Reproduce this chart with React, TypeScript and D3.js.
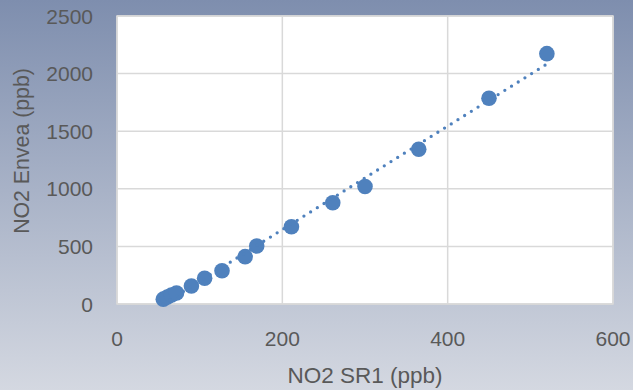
import React from "react";
import * as d3 from "d3";

const xValues = [56, 61, 66, 72, 90, 106, 127, 155, 169, 211, 261, 300, 365, 450, 520];
const yValues = [42, 60, 78, 95, 156, 223, 288, 411, 503, 671, 879, 1020, 1343, 1786, 2173];
const xTicks = [0, 200, 400, 600];
const yTicks = [0, 500, 1000, 1500, 2000, 2500];
const xTitle = "NO2 SR1 (ppb)";
const yTitle = "NO2 Envea (ppb)";

const W = 633;
const H = 390;
const plot = { left: 117, right: 613, top: 16, bottom: 304 };
const blue = "#4F81BD";
const textColor = "#595959";
const font = "'Liberation Sans', Arial, sans-serif";

export default function App() {
  const x = d3.scaleLinear().domain([0, 600]).range([plot.left, plot.right]);
  const y = d3.scaleLinear().domain([0, 2500]).range([plot.bottom, plot.top]);

  const pts = xValues.map((v, i) => ({ x: v, y: yValues[i] }));
  const mx = d3.mean(xValues)!;
  const my = d3.mean(yValues)!;
  const slope =
    d3.sum(pts, (p) => (p.x - mx) * (p.y - my)) / d3.sum(pts, (p) => (p.x - mx) ** 2);
  const intercept = my - slope * mx;
  const [x0, x1] = d3.extent(xValues) as [number, number];
  const trend = d3
    .line<number>()
    .x((d) => x(d))
    .y((d) => y(intercept + slope * d))([x0, x1]);

  return (
    <svg
      width={W}
      height={H}
      style={{ position: "fixed", left: 0, top: 0 }}
      fontFamily={font}
    >
      <defs>
        <linearGradient id="bg" x1="0" y1="0" x2="0" y2="1">
          <stop offset="0" stopColor="#7E8EAE" />
          <stop offset="1" stopColor="#D4D8E1" />
        </linearGradient>
      </defs>
      <rect x={0} y={0} width={W} height={H} fill="url(#bg)" />
      <rect
        x={plot.left}
        y={plot.top}
        width={plot.right - plot.left}
        height={plot.bottom - plot.top}
        fill="#FFFFFF"
        stroke="#D9D9D9"
        strokeWidth={1.5}
      />
      {yTicks.map((t) => (
        <line
          key={"gy" + t}
          x1={plot.left}
          x2={plot.right}
          y1={y(t)}
          y2={y(t)}
          stroke="#D9D9D9"
          strokeWidth={1.5}
        />
      ))}
      {xTicks.map((t) => (
        <line
          key={"gx" + t}
          x1={x(t)}
          x2={x(t)}
          y1={plot.top}
          y2={plot.bottom}
          stroke="#D9D9D9"
          strokeWidth={1.5}
        />
      ))}
      {yTicks.map((t) => (
        <text
          key={"ty" + t}
          x={93}
          y={y(t)}
          textAnchor="end"
          dominantBaseline="central"
          fontSize={21}
          fill={textColor}
        >
          {t}
        </text>
      ))}
      {xTicks.map((t) => (
        <text
          key={"tx" + t}
          x={x(t)}
          y={338}
          textAnchor="middle"
          dominantBaseline="central"
          fontSize={21}
          fill={textColor}
        >
          {t}
        </text>
      ))}
      <text
        x={(plot.left + plot.right) / 2}
        y={375}
        textAnchor="middle"
        dominantBaseline="central"
        fontSize={22.5}
        fill={textColor}
      >
        {xTitle}
      </text>
      <text
        transform={`translate(22,151) rotate(-90)`}
        textAnchor="middle"
        dominantBaseline="central"
        fontSize={21.3}
        fill={textColor}
      >
        {yTitle}
      </text>
      {pts.map((p, i) => (
        <circle key={"p" + i} cx={x(p.x)} cy={y(p.y)} r={7.8} fill={blue} />
      ))}
      <path
        d={trend ?? ""}
        fill="none"
        stroke={blue}
        strokeWidth={3.3}
        strokeLinecap="round"
        strokeDasharray="0 7.9"
      />
    </svg>
  );
}
